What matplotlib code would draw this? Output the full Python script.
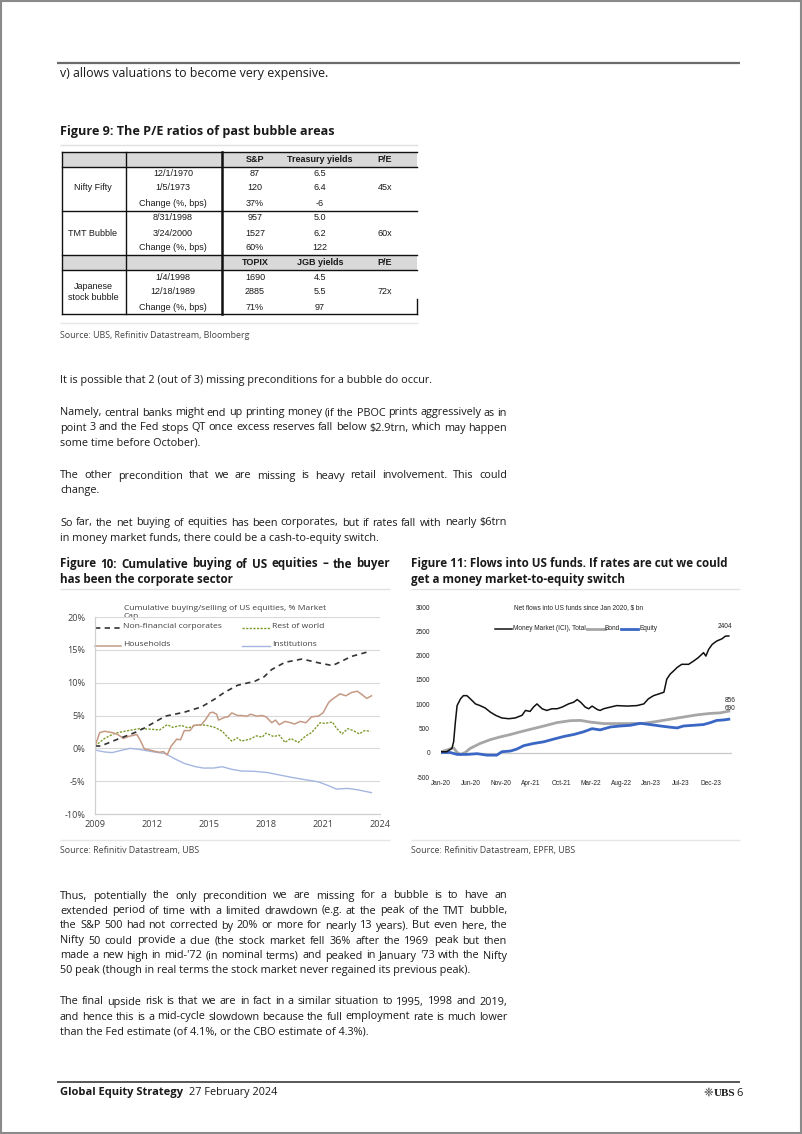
import matplotlib
matplotlib.use('Agg')
import matplotlib.pyplot as plt
from matplotlib.patches import Rectangle
from matplotlib import font_manager

# ---------------- DATA ----------------
# Figure 9 table
tbl_groups = ["Nifty Fifty", "TMT Bubble", "Japanese\nstock bubble"]
tbl_dates = [["12/1/1970", "1/5/1973", "Change (%, bps)"],
             ["8/31/1998", "3/24/2000", "Change (%, bps)"],
             ["1/4/1998", "12/18/1989", "Change (%, bps)"]]
tbl_index = [["87", "120", "37%"], ["957", "1527", "60%"], ["1690", "2885", "71%"]]
tbl_yield = [["6.5", "6.4", "-6"], ["5.0", "6.2", "122"], ["4.5", "5.5", "97"]]
tbl_pe = ["45x", "60x", "72x"]
tbl_head_us = ["S&P", "Treasury yields", "P/E"]
tbl_head_jp = ["TOPIX", "JGB yields", "P/E"]

# Figure 10: cumulative buying of US equities, % market cap
corp_x = [2009.0, 2009.3, 2010.2, 2011.1, 2011.6, 2012.7, 2013.7, 2014.6, 2015.3, 2015.8, 2016.5,
          2017.4, 2017.9, 2018.3, 2019.0, 2019.9, 2020.8, 2021.5, 2022.0, 2022.5, 2023.5]
corp_y = [0.35, 0.35, 1.4, 2.4, 3.1, 4.9, 5.5, 6.3, 7.5, 8.5, 9.6,
          10.2, 10.9, 12.0, 13.1, 13.6, 13.0, 12.6, 13.3, 14.0, 14.8]
hh_x = [2009.0, 2009.25, 2009.5, 2009.9, 2010.2, 2010.5, 2010.75, 2011.2, 2011.35, 2011.6, 2011.8,
        2012.2, 2012.4, 2012.6, 2012.8, 2013.0, 2013.3, 2013.5, 2013.7, 2014.0, 2014.2, 2014.6,
        2014.8, 2015.05, 2015.2, 2015.4, 2015.5, 2015.8, 2016.0, 2016.2, 2016.5, 2016.7, 2017.0,
        2017.2, 2017.5, 2017.8, 2018.0, 2018.3, 2018.5, 2018.7, 2019.0, 2019.3, 2019.5, 2019.8,
        2020.1, 2020.4, 2020.75, 2021.0, 2021.3, 2021.5, 2021.9, 2022.2, 2022.5, 2022.8, 2023.0,
        2023.3, 2023.55]
hh_y = [0.3, 2.4, 2.6, 2.4, 2.1, 1.5, 1.8, 2.1, 1.4, -0.1, -0.2,
        -0.5, -0.6, -0.5, -1.0, 0.3, 1.4, 1.3, 2.7, 2.7, 3.5, 3.6,
        4.3, 5.4, 5.5, 5.2, 4.3, 4.7, 4.8, 5.4, 5.0, 5.0, 4.9,
        5.2, 4.9, 5.0, 4.8, 3.9, 4.3, 3.6, 4.1, 3.9, 3.7, 4.1,
        3.9, 4.8, 4.9, 5.4, 7.0, 7.5, 8.3, 8.0, 8.5, 8.7, 8.3,
        7.6, 8.0]
row_x = [2009.0, 2009.5, 2010.05, 2010.75, 2011.35, 2012.0, 2012.4, 2012.8, 2013.1, 2013.55, 2013.9,
         2014.3, 2014.8, 2015.3, 2015.7, 2015.95, 2016.2, 2016.5, 2016.7, 2017.15, 2017.5, 2017.8,
         2018.0, 2018.4, 2018.7, 2019.0, 2019.3, 2019.7, 2020.1, 2020.4, 2020.85, 2021.1, 2021.5,
         2021.7, 2022.0, 2022.3, 2022.6, 2022.9, 2023.2, 2023.5]
row_y = [0.35, 1.5, 2.3, 2.7, 3.0, 2.9, 2.8, 3.6, 3.2, 3.5, 3.1,
         3.5, 3.55, 3.2, 2.6, 1.8, 1.1, 1.6, 1.1, 1.4, 1.9, 1.7,
         2.3, 1.8, 2.0, 0.9, 1.5, 0.9, 1.9, 2.4, 3.9, 3.8, 4.0,
         3.1, 2.2, 3.0, 2.7, 2.2, 2.7, 2.6]
inst_x = [2009.0, 2009.5, 2009.9, 2010.4, 2010.85, 2011.3, 2012.0, 2012.7, 2013.2, 2013.7, 2014.3,
          2014.7, 2015.25, 2015.7, 2016.2, 2016.7, 2017.4, 2018.1, 2018.7, 2019.4, 2020.1, 2020.75,
          2021.3, 2021.7, 2022.3, 2022.8, 2023.55]
inst_y = [-0.25, -0.55, -0.65, -0.3, 0.0, -0.15, -0.5, -0.8, -1.6, -2.3, -2.8,
          -3.0, -3.0, -2.8, -3.2, -3.45, -3.5, -3.7, -4.05, -4.45, -4.8, -5.1,
          -5.7, -6.2, -6.1, -6.3, -6.75]
f10_years = [2009, 2012, 2015, 2018, 2021, 2024]
f10_pct = [-10, -5, 0, 5, 10, 15, 20]

# Figure 11: net flows into US funds since Jan 2020, $bn (x = months since Jan 2020)
mm_x = [0, 1.0, 1.9, 2.2, 2.5, 2.8, 3.4, 3.9, 4.5, 5.1, 6.0, 6.8, 7.7, 8.6, 9.5, 10.6, 11.8, 12.9,
        14.1, 14.7, 15.5, 16.1, 16.7, 17.6, 18.4, 19.3, 20.2, 21.1, 22.2, 23.1, 23.7, 24.3, 25.1,
        25.7, 26.3, 27.2, 27.7, 28.3, 29.5, 30.6, 32.4, 34.1, 35.3, 36.1, 37.0, 37.9, 38.8, 39.3,
        39.9, 40.5, 41.1, 41.9, 43.1, 44.0, 44.8, 45.7, 46.1, 46.6, 47.2, 48.0, 48.9, 49.5, 50.1]
mm_y = [20, 20, 90, 225, 630, 970, 1110, 1175, 1175, 1110, 1005, 970, 920, 835, 770, 715, 700, 715,
        770, 870, 850, 940, 1005, 905, 870, 905, 905, 940, 1005, 1040, 1095, 1040, 940,
        905, 960, 890, 870, 905, 940, 970, 960, 970, 1005, 1110, 1175, 1210, 1245, 1515,
        1620, 1685, 1755, 1820, 1820, 1890, 1960, 2060, 1990, 2130, 2230, 2300, 2345, 2400, 2404]
bond_x = [0, 1.0, 1.9, 2.2, 2.8, 3.4, 4.2, 5.1, 6.8, 8.6, 10.3, 12.1, 13.8, 15.5, 17.9, 20.2, 22.5,
          24.3, 26.0, 28.3, 30.6, 33.0, 35.3, 37.6, 39.9, 42.2, 44.6, 46.9, 48.6, 50.1]
bond_y = [20, 55, 90, 100, 5, -35, 5, 90, 190, 270, 325, 375, 430, 480, 550, 620, 660,
          665, 630, 600, 600, 600, 605, 645, 690, 735, 780, 810, 820, 856]
eq_x = [0, 1.6, 2.8, 4.5, 6.3, 8.0, 9.7, 10.6, 12.1, 13.2, 14.4, 16.1, 17.9, 19.6, 21.4, 23.1, 24.8,
        26.3, 27.7, 29.5, 31.2, 33.0, 34.7, 36.4, 38.2, 39.9, 41.1, 42.2, 44.0, 45.7, 46.9, 48.0,
        49.2, 50.1]
eq_y = [5, 5, -35, -35, -20, -50, -50, 20, 35, 75, 145, 190, 225, 280, 335, 375, 430,
        495, 470, 530, 550, 565, 605, 580, 550, 525, 510, 550, 565, 580, 620, 665,
        675, 690]
f11_tick_labels = ["Jan-20", "Jun-20", "Nov-20", "Apr-21", "Oct-21", "Mar-22", "Aug-22",
                   "Jan-23", "Jul-23", "Dec-23"]
f11_yticks = [-500, 0, 500, 1000, 1500, 2000, 2500, 3000]

# ---------------- PAGE ----------------
W, H = 802, 1134
fig = plt.figure(figsize=(W / 100, H / 100), dpi=100)
page = fig.add_axes([0, 0, 1, 1])
page.set_xlim(0, W)
page.set_ylim(H, 0)
page.axis('off')
renderer = fig.canvas.get_renderer()

_names = {f.name for f in font_manager.fontManager.ttflist}
BODY = ['Open Sans', 'DejaVu Sans']
ARIAL = ['Liberation Sans', 'DejaVu Sans']
NARROW = (['Liberation Sans Narrow', 'DejaVu Sans'] if 'Liberation Sans Narrow' in _names
          else ARIAL)
TXT = '#1a1a1a'
GREY = '#404040'
BS = 7.8


def txt(x, y, s, size=BS, weight='normal', color=TXT, ha='left', family=BODY, **kw):
    return page.text(x, y, s, fontsize=size, fontweight=weight, color=color, ha=ha,
                     va='center', family=family, **kw)


def justify(x0, x1, y, line, **kw):
    words = line.split(' ')
    ts = [txt(x0, y, w, **kw) for w in words]
    ws = [t.get_window_extent(renderer).width for t in ts]
    gap = (x1 - x0 - sum(ws)) / max(len(words) - 1, 1)
    x = x0
    for t, w in zip(ts, ws):
        t.set_x(x)
        x += w + gap


def para(x0, x1, y0, lines, lh=15, **kw):
    for i, ln in enumerate(lines):
        if i < len(lines) - 1:
            justify(x0, x1, y0 + i * lh, ln, **kw)
        else:
            txt(x0, y0 + i * lh, ln, **kw)


def hline(y, x0, x1, color='#d0d0d0', lw=0.8):
    page.plot([x0, x1], [y, y], color=color, lw=lw, solid_capstyle='butt')


# page border
page.add_patch(Rectangle((0.5, 0.5), W - 1.5, H - 1.5, fill=False, ec='#8a8a8a', lw=1.5))

# header rule and first line
hline(63, 57, 740, color='#6b6b6b', lw=1.6)
txt(60, 73, "v) allows valuations to become very expensive.", size=8.9)

# Figure 9
txt(60, 132, "Figure 9: The P/E ratios of past bubble areas", size=9.1, weight='bold')
hline(145, 60, 418, color='#e0e0e0', lw=1.0)

col_c = [93, 173, 255, 320, 385]
for (ya, yb) in [(152, 167), (255, 270)]:
    page.add_patch(Rectangle((62, ya), 417 - 62, yb - ya, color='#d9d9d9', lw=0))
for y in [152, 167, 211, 255, 270, 314]:
    page.plot([62, 417], [y, y], color='#111111', lw=1.0)
page.plot([62, 62], [152, 314], color='#111111', lw=1.0)
page.plot([126, 126], [152, 314], color='#111111', lw=1.0)
page.plot([222, 222], [152, 314], color='#111111', lw=1.8)
page.plot([417, 417], [299, 314], color='#111111', lw=1.0)

TS = 6.5
for hy, heads in [(159.5, tbl_head_us), (262.5, tbl_head_jp)]:
    for c, h in zip(col_c[2:], heads):
        txt(c, hy, h, size=TS, weight='bold', ha='center', family=ARIAL)
row_y0 = [173, 218, 277]
for g in range(3):
    y0 = row_y0[g]
    ys = [y0, y0 + 15, y0 + 30]
    txt(col_c[0], ys[1], tbl_groups[g], size=TS, ha='center', family=ARIAL, linespacing=1.35)
    for r in range(3):
        txt(col_c[1], ys[r], tbl_dates[g][r], size=TS, ha='center', family=ARIAL)
        txt(col_c[2], ys[r], tbl_index[g][r], size=TS, ha='center', family=ARIAL)
        txt(col_c[3], ys[r], tbl_yield[g][r], size=TS, ha='center', family=ARIAL)
    txt(col_c[4], ys[1], tbl_pe[g], size=TS, ha='center', family=ARIAL)

hline(323, 60, 418, color='#e6e6e6', lw=1.0)
txt(60, 335, "Source: UBS, Refinitiv Datastream, Bloomberg", size=6.4, color='#444444')

# body paragraphs
txt(60, 381, "It is possible that 2 (out of 3) missing preconditions for a bubble do occur.")
para(60, 507, 413, ["Namely, central banks might end up printing money (if the PBOC prints aggressively as in",
                    "point 3 and the Fed stops QT once excess reserves fall below $2.9trn, which may happen",
                    "some time before October)."])
para(60, 507, 476, ["The other precondition that we are missing is heavy retail involvement. This could",
                    "change."])
para(60, 507, 523, ["So far, the net buying of equities has been corporates, but if rates fall with nearly $6trn",
                    "in money market funds, there could be a cash-to-equity switch."])

# Figure titles
FT = 8.4
justify(60, 390, 564, "Figure 10: Cumulative buying of US equities – the buyer", size=FT, weight='bold')
txt(60, 579, "has been the corporate sector", size=FT, weight='bold')
txt(411, 564, "Figure 11: Flows into US funds. If rates are cut we could", size=FT, weight='bold')
txt(411, 579, "get a money market-to-equity switch", size=FT, weight='bold')
hline(589, 60, 390, color='#e3e3e3', lw=1.0)
hline(589, 411, 740, color='#e3e3e3', lw=1.0)


# ---------------- FIGURE 10 ----------------
def fig_rect(x0, y0, x1, y1):
    return [x0 / W, 1 - y1 / H, (x1 - x0) / W, (y1 - y0) / H]


ax1 = fig.add_axes(fig_rect(95, 617, 380, 814))
ax1.set_xlim(2009, 2024)
ax1.set_ylim(-10, 20)
for s in ['top', 'right']:
    ax1.spines[s].set_visible(False)
for s in ['left', 'bottom']:
    ax1.spines[s].set_color('#d0d0d0')
    ax1.spines[s].set_linewidth(0.9)
ax1.set_yticks(f10_pct)
ax1.set_yticklabels([f"{v}%" for v in f10_pct])
ax1.set_xticks(f10_years)
ax1.set_xticklabels([str(v) for v in f10_years])
ax1.tick_params(length=0, labelsize=6.6, colors=GREY, pad=4)
ax1.tick_params(axis='y', pad=7)
for lab in ax1.get_xticklabels() + ax1.get_yticklabels():
    lab.set_family(BODY)
ax1.grid(axis='y', color='#d9d9d9', lw=0.8)
ax1.set_axisbelow(True)
ax1.set_facecolor('none')

C_CORP = '#333333'
C_HH = '#c59a84'
C_ROW = '#7f9a2c'
C_INST = '#a4b6e0'
ax1.plot(inst_x, inst_y, color=C_INST, lw=1.0)
ax1.plot(row_x, row_y, color=C_ROW, lw=1.0, dashes=(1.6, 1.0))
ax1.plot(hh_x, hh_y, color=C_HH, lw=1.1)
ax1.plot(corp_x, corp_y, color=C_CORP, lw=1.2, dashes=(3.2, 2.6))

LS = 6.1
txt(124, 608, "Cumulative buying/selling of US equities, % Market", size=LS, color=GREY)
txt(124, 617, "Cap", size=LS, color=GREY)
page.plot([95, 120], [627.5, 627.5], color=C_CORP, lw=1.2, dashes=(3.2, 2.6))
txt(123, 627, "Non-financial corporates", size=LS, color=GREY)
page.plot([242, 270], [627.5, 627.5], color=C_ROW, lw=1.0, dashes=(1.6, 1.0))
txt(272, 627, "Rest of world", size=LS, color=GREY)
page.plot([95, 121], [645.5, 645.5], color=C_HH, lw=1.1)
txt(123, 645, "Households", size=LS, color=GREY)
page.plot([242, 270], [645.5, 645.5], color=C_INST, lw=1.0)
txt(272, 645, "Institutions", size=LS, color=GREY)

# ---------------- FIGURE 11 ----------------
months_per_tick = 47 / 9
ax2 = fig.add_axes(fig_rect(441, 607, 732, 777))
ax2.set_xlim(0, 50.65)
ax2.set_ylim(-500, 3000)
for s in ax2.spines.values():
    s.set_visible(False)
ax2.axhline(0, color='#c8c8c8', lw=0.9, zorder=0)
ax2.set_yticks(f11_yticks)
ax2.set_yticklabels([str(v) for v in f11_yticks])
ax2.set_xticks([i * months_per_tick for i in range(len(f11_tick_labels))])
ax2.set_xticklabels(f11_tick_labels)
SS = 5.0 if NARROW is not ARIAL else 4.7
ax2.tick_params(length=0, labelsize=SS, colors='#222222', pad=2)
ax2.tick_params(axis='y', pad=8)
for lab in ax2.get_xticklabels() + ax2.get_yticklabels():
    lab.set_family(NARROW)
ax2.set_facecolor('none')

C_MM = '#111111'
C_BOND = '#a6a6a6'
C_EQ = '#3a66c4'
ax2.plot(bond_x, bond_y, color=C_BOND, lw=2.0)
ax2.plot(eq_x, eq_y, color=C_EQ, lw=2.0)
ax2.plot(mm_x, mm_y, color=C_MM, lw=1.1)
ax2.annotate(str(mm_y[-1]), (mm_x[-1], mm_y[-1]), xytext=(-3, 7), textcoords='offset points',
             ha='center', va='center', fontsize=SS, family=NARROW, color='#222222')
ax2.annotate(str(bond_y[-1]), (bond_x[-1], bond_y[-1]), xytext=(1, 7.5), textcoords='offset points',
             ha='center', va='center', fontsize=SS, family=NARROW, color='#222222')
ax2.annotate(str(eq_y[-1]), (eq_x[-1], eq_y[-1]), xytext=(1, 8), textcoords='offset points',
             ha='center', va='center', fontsize=SS, family=NARROW, color='#222222')

txt(578, 608, "Net flows into US funds since Jan 2020, $ bn", size=SS, ha='center', family=NARROW,
    color='#222222')
page.plot([495, 512], [629, 629], color=C_MM, lw=1.1)
t_mm = txt(513, 629, "Money Market (ICI), Total", size=SS, family=NARROW, color='#222222')
x_b = max(582, 513 + t_mm.get_window_extent(renderer).width + 1)
page.plot([x_b, x_b + 18], [629, 629], color=C_BOND, lw=2.0)
t_b = txt(x_b + 18, 629, "Bond", size=SS, family=NARROW, color='#222222')
x_e = max(620, x_b + 18 + t_b.get_window_extent(renderer).width + 1)
page.plot([x_e, x_e + 17], [629, 629], color=C_EQ, lw=2.0)
txt(x_e + 18, 629, "Equity", size=SS, family=NARROW, color='#222222')

hline(840, 60, 390, color='#e6e6e6', lw=1.0)
hline(840, 411, 740, color='#e6e6e6', lw=1.0)
txt(60, 851, "Source: Refinitiv Datastream, UBS", size=6.4, color='#444444')
txt(411, 851, "Source: Refinitiv Datastream, EPFR, UBS", size=6.4, color='#444444')

# lower paragraphs
para(60, 507, 896, ["Thus, potentially the only precondition we are missing for a bubble is to have an",
                    "extended period of time with a limited drawdown (e.g. at the peak of the TMT bubble,",
                    "the S&P 500 had not corrected by 20% or more for nearly 13 years). But even here, the",
                    "Nifty 50 could provide a clue (the stock market fell 36% after the 1969 peak but then",
                    "made a new high in mid-'72 (in nominal terms) and peaked in January '73 with the Nifty",
                    "50 peak (though in real terms the stock market never regained its previous peak)."])
para(60, 507, 1002, ["The final upside risk is that we are in fact in a similar situation to 1995, 1998 and 2019,",
                     "and hence this is a mid-cycle slowdown because the full employment rate is much lower",
                     "than the Fed estimate (of 4.1%, or the CBO estimate of 4.3%)."])

# footer
hline(1082, 57, 740, color='#4a4a4a', lw=1.3)
txt(60, 1093, "Global Equity Strategy", size=8.0, weight='bold')
txt(189, 1093, "27 February 2024", size=7.8)
txt(703, 1093, "\u2748", size=8.5, family=['DejaVu Sans'], color='#333333')
txt(714, 1093, "UBS", size=8.0, weight='bold', family=['Liberation Serif', 'DejaVu Serif'])
txt(736, 1093, "6", size=8.0)

fig.savefig('out.png', dpi=100)
